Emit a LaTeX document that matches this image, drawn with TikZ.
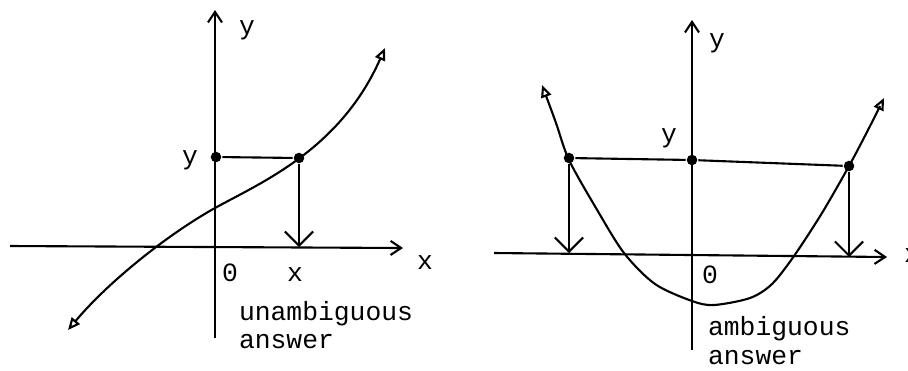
\documentclass[tikz,border=0pt]{standalone}
\usepackage{fontspec}
\setmainfont{Liberation Mono}
\usetikzlibrary{arrows.meta}
\begin{document}
\begin{tikzpicture}[x=0.02cm,y=-0.02cm, line width=1.2pt,
 lbl/.style={font=\fontsize{15}{18}\selectfont, inner sep=0pt},
 axis/.style={-{Straight Barb[length=6pt,width=8pt]}},
 drop/.style={-{Straight Barb[length=8pt,width=16pt]}},
 crv/.style={{Triangle[open,length=7pt,width=6pt]}-{Triangle[open,length=7pt,width=6pt]}},
 dot/.style={circle,fill,inner sep=0pt,minimum size=6pt}]
\useasboundingbox (0,0) rectangle (908,370);
% ---------- left graph ----------
\coordinate (LyB) at (215,338);
\coordinate (LyT) at (215,10);
\coordinate (LxL) at (10,246);
\coordinate (LxR) at (403,248);
\draw[axis] (LyB) -- (LyT);
\draw[axis] (LxL) -- (LxR);
\draw[crv] (68,330) .. controls (110,280) and (170,233) .. (215,208)
   .. controls (260,183) and (340,150) .. (385,48);
\node[dot] (Ly) at (216,157) {};
\node[dot] (Lp) at (299,158) {};
\coordinate (Lx) at (299,247);
\draw (Ly) -- (Lp);
\draw[drop] (Lp) -- (Lx);
\node[lbl] (LyLab) at (247,30) {y};
\node[lbl] (LyVal) at (190,160) {y};
\node[lbl] (L0) at (230,273) {0};
\node[lbl] (LxVal) at (295,275) {x};
\node[lbl] (LxLab) at (425,263) {x};
\node[lbl,anchor=base west] (Lt1) at (238,320) {unambiguous};
\node[lbl,anchor=base west] (Lt2) at (238,348) {answer};
% ---------- right graph ----------
\coordinate (RyB) at (692,350);
\coordinate (RyT) at (692,20);
\coordinate (RxL) at (494,253);
\coordinate (RxR) at (887,257);
\draw[axis] (RyB) -- (RyT);
\draw[axis] (RxL) -- (RxR);
\draw[crv] plot[smooth] coordinates {(542,85) (556,123) (569,160) (596,208) (624,253) (655,284) (692,301) (714,305) (750,298) (772,284) (794,256) (822,213) (849,166) (868,130) (884,98)};
\node[dot] (Ra) at (569,158) {};
\node[dot] (Rm) at (692,160) {};
\node[dot] (Rb) at (849,166) {};
\coordinate (Rxa) at (569,253);
\coordinate (Rxb) at (849,257);
\draw (Ra) -- (Rm) -- (Rb);
\draw[drop] (Ra) -- (Rxa);
\draw[drop] (Rb) -- (Rxb);
\node[lbl] (RyLab) at (717,43) {y};
\node[lbl] (RyVal) at (669,138) {y};
\node[lbl] (R0) at (710,275) {0};
\node[lbl] (RxLab) at (912,256) {x};
\node[lbl,anchor=base west] (Rt1) at (707,335) {ambiguous};
\node[lbl,anchor=base west] (Rt2) at (707,364) {answer};
\end{tikzpicture}
\end{document}
